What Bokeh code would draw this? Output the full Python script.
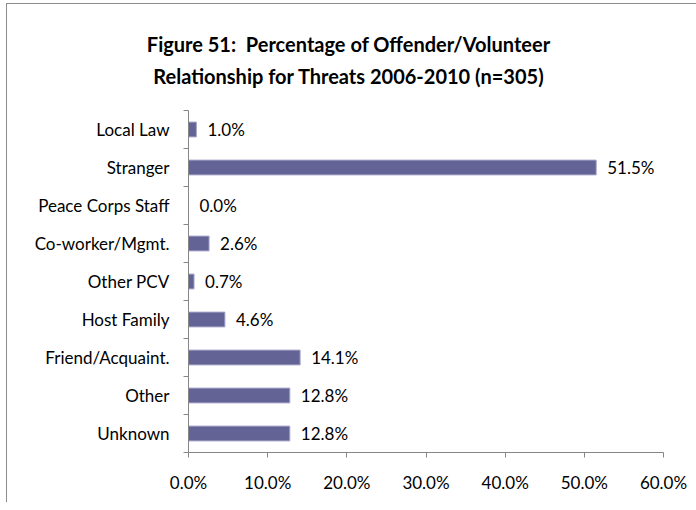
from bokeh.plotting import figure
from bokeh.models import FixedTicker, PrintfTickFormatter, Range1d, ColumnDataSource, Div
from bokeh.layouts import column
from bokeh.core.properties import value
from bokeh.embed import file_html
from bokeh.resources import INLINE

categories = ["Local Law", "Stranger", "Peace Corps Staff", "Co-worker/Mgmt.",
              "Other PCV", "Host Family", "Friend/Acquaint.", "Other", "Unknown"]
percent = [1.0, 51.5, 0.0, 2.6, 0.7, 4.6, 14.1, 12.8, 12.8]
x_ticks = [0, 10, 20, 30, 40, 50, 60]
title_lines = ["Figure 51:&nbsp; Percentage of Offender/Volunteer",
               "Relationship for Threats 2006-2010 (n=305)"]

FONT = "Lato"
FS = "17px"
n = len(categories)
ypos = [n - i - 0.5 for i in range(n)]
labels = [f"{v:.1f}%" for v in percent]

src = ColumnDataSource(dict(y=ypos, v=percent, lab=labels))

p = figure(frame_width=475, frame_height=342, output_backend="svg", toolbar_location=None,
           x_range=Range1d(0, 60), y_range=Range1d(0, n),
           min_border_left=181, min_border_right=29, min_border_top=10, min_border_bottom=50)
p.outline_line_color = None
p.xgrid.grid_line_color = None
p.ygrid.grid_line_color = None
p.background_fill_color = "white"
p.border_fill_color = "white"

p.hbar(y="y", right="v", left=0, height=0.39, source=src,
       fill_color="#636396", line_color="#a8a8cc", line_width=1)
p.text(x="v", y="y", text="lab", source=src, x_offset=11,
       text_align="left", text_baseline="middle",
       text_font=value(FONT), text_font_size=FS, text_color="#000000")

xa = p.xaxis[0]
xa.ticker = FixedTicker(ticks=x_ticks)
xa.formatter = PrintfTickFormatter(format="%.1f%%")
xa.axis_line_color = "#868686"
xa.major_tick_line_color = "#868686"
xa.major_tick_out = 5
xa.major_tick_in = 0
xa.minor_tick_line_color = None
xa.major_label_standoff = 14
xa.major_label_text_font = FONT
xa.major_label_text_font_size = FS
xa.major_label_text_color = "#000000"

ya = p.yaxis[0]
ya.ticker = FixedTicker(ticks=ypos, minor_ticks=list(range(n + 1)))
ya.major_label_overrides = {yv: c for yv, c in zip(ypos, categories)}
ya.axis_line_color = "#868686"
ya.major_tick_line_color = None
ya.major_tick_out = 0
ya.major_tick_in = 0
ya.minor_tick_line_color = "#868686"
ya.minor_tick_out = 5
ya.minor_tick_in = 0
ya.major_label_standoff = 14
ya.major_label_text_font = FONT
ya.major_label_text_font_size = FS
ya.major_label_text_color = "#000000"

title = Div(text="<br>".join(title_lines), width=685, height=86,
            styles={"text-align": "center", "font-family": FONT, "font-weight": "bold",
                    "font-size": "20px", "line-height": "32px", "padding-top": "19px",
                    "padding-right": "12px",
                    "color": "#000000", "box-sizing": "border-box", "width": "685px"})

layout = column(title, p, spacing=0)
layout.styles = {"border-left": "1px solid #8c8c8c", "border-top": "1px solid #8c8c8c",
                 "margin-left": "6px", "margin-top": "3px", "background": "white"}

open("out.html", "w").write(file_html(layout, INLINE))
